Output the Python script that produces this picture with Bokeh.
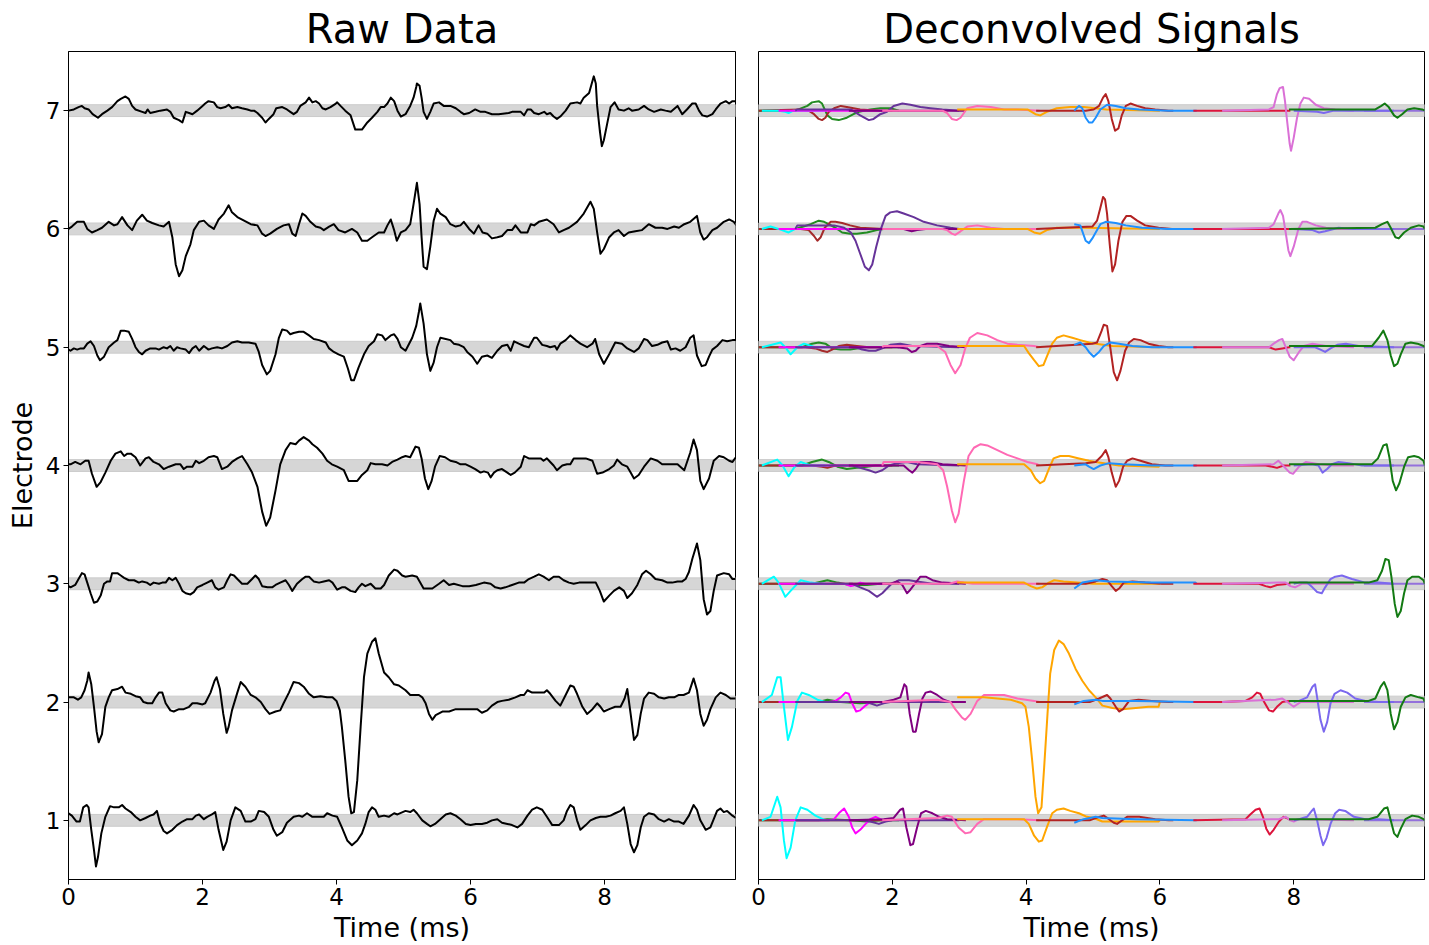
from bokeh.plotting import figure
from bokeh.layouts import row
from bokeh.models import Range1d, FixedTicker
from bokeh.embed import file_html
from bokeh.resources import INLINE

# ---------------- data ----------------
electrodes = [1, 2, 3, 4, 5, 6, 7]
x_ticks = [0, 2, 4, 6, 8]
time_span = [0.0, 9.955]
electrode_span = [0.5, 7.5]
band_half_width = 0.05

# raw traces: (time ms, offset from electrode level)
raw_e7 = [(0.00,0.00),(0.08,0.01),(0.15,0.03),(0.20,0.04),(0.24,0.02),(0.30,0.01),(0.36,-0.03),(0.44,-0.06),(0.50,-0.03),(0.58,0.00),(0.65,0.03),(0.73,0.08),(0.78,0.10),(0.85,0.12),(0.90,0.10),(0.95,0.04),(1.00,0.01),(1.10,-0.01),(1.15,-0.02),(1.18,0.01),(1.22,-0.02),(1.30,-0.01),(1.37,0.00),(1.47,0.01),(1.52,-0.01),(1.57,-0.06),(1.65,-0.08),(1.70,-0.10),(1.75,-0.01),(1.80,-0.02),(1.85,-0.03),(1.92,0.00),(2.00,0.04),(2.04,0.06),(2.09,0.08),(2.17,0.07),(2.22,0.03),(2.27,0.02),(2.34,0.03),(2.39,0.05),(2.44,0.02),(2.52,0.03),(2.59,0.02),(2.67,0.01),(2.72,0.00),(2.77,0.00),(2.82,-0.02),(2.89,-0.06),(2.94,-0.10),(2.99,-0.07),(3.06,-0.03),(3.10,0.02),(3.19,0.03),(3.26,0.01),(3.31,-0.01),(3.36,-0.03),(3.41,-0.01),(3.46,0.04),(3.54,0.07),(3.59,0.11),(3.64,0.07),(3.69,0.08),(3.74,0.06),(3.79,0.02),(3.84,0.01),(3.91,0.03),(3.99,0.06),(4.01,0.07),(4.06,0.04),(4.13,0.00),(4.21,-0.04),(4.28,-0.16),(4.38,-0.16),(4.46,-0.10),(4.53,-0.06),(4.61,-0.01),(4.66,0.03),(4.71,0.03),(4.76,0.06),(4.81,0.11),(4.86,0.08),(4.91,0.00),(4.96,-0.05),(5.03,-0.03),(5.10,0.04),(5.15,0.11),(5.19,0.20),(5.20,0.23),(5.24,0.21),(5.27,0.11),(5.30,-0.01),(5.35,-0.07),(5.40,-0.01),(5.45,0.06),(5.53,0.07),(5.60,0.04),(5.70,0.04),(5.78,0.02),(5.85,-0.01),(5.90,-0.03),(5.98,-0.02),(6.07,0.01),(6.15,-0.01),(6.22,-0.01),(6.32,-0.03),(6.42,-0.03),(6.57,-0.02),(6.62,-0.01),(6.75,-0.01),(6.80,-0.04),(6.85,0.01),(6.90,0.01),(6.95,-0.02),(7.02,-0.03),(7.10,-0.01),(7.14,-0.03),(7.19,-0.02),(7.24,-0.05),(7.29,-0.07),(7.34,-0.05),(7.42,0.00),(7.49,0.06),(7.59,0.07),(7.64,0.06),(7.69,0.11),(7.77,0.15),(7.84,0.29),(7.87,0.23),(7.89,0.04),(7.93,-0.17),(7.96,-0.30),(7.99,-0.25),(8.04,-0.11),(8.09,0.03),(8.15,0.07),(8.21,0.01),(8.29,0.00),(8.36,0.02),(8.41,0.00),(8.51,0.01),(8.59,0.04),(8.66,0.01),(8.74,-0.01),(8.84,0.01),(8.91,0.00),(8.99,-0.01),(9.09,0.04),(9.16,-0.03),(9.23,0.01),(9.31,0.06),(9.36,0.06),(9.41,0.00),(9.46,-0.04),(9.53,-0.05),(9.61,-0.03),(9.66,0.01),(9.73,0.06),(9.81,0.08),(9.86,0.06),(9.91,0.08),(9.96,0.08)]
raw_e6 = [(0.00,0.00),(0.05,0.02),(0.13,0.06),(0.23,0.06),(0.28,0.00),(0.35,-0.03),(0.43,-0.01),(0.50,0.01),(0.60,0.06),(0.68,0.03),(0.73,0.04),(0.80,0.10),(0.88,0.03),(0.95,-0.01),(1.02,0.07),(1.10,0.12),(1.17,0.07),(1.25,0.05),(1.35,0.03),(1.42,0.02),(1.50,0.06),(1.55,-0.07),(1.60,-0.30),(1.65,-0.40),(1.70,-0.35),(1.75,-0.23),(1.82,-0.13),(1.87,-0.01),(1.95,0.06),(2.02,0.07),(2.09,0.03),(2.17,0.00),(2.24,0.08),(2.32,0.13),(2.39,0.20),(2.44,0.14),(2.52,0.10),(2.62,0.07),(2.72,0.04),(2.82,0.03),(2.89,-0.04),(2.94,-0.06),(3.01,-0.04),(3.11,0.00),(3.21,0.03),(3.29,0.04),(3.34,-0.04),(3.39,-0.06),(3.44,0.04),(3.49,0.13),(3.54,0.11),(3.61,0.06),(3.69,0.02),(3.76,0.01),(3.81,-0.01),(3.89,0.02),(3.96,0.04),(4.03,-0.01),(4.13,-0.03),(4.23,0.00),(4.31,-0.03),(4.38,-0.10),(4.46,-0.10),(4.53,-0.07),(4.63,-0.03),(4.71,-0.03),(4.76,0.03),(4.81,0.08),(4.86,-0.01),(4.90,-0.10),(4.96,-0.03),(5.03,-0.01),(5.10,0.04),(5.15,0.21),(5.20,0.39),(5.24,0.21),(5.27,-0.07),(5.30,-0.32),(5.35,-0.34),(5.40,-0.15),(5.45,0.07),(5.50,0.17),(5.55,0.13),(5.63,0.10),(5.70,0.04),(5.78,0.02),(5.85,0.03),(5.90,0.06),(5.98,0.00),(6.05,-0.04),(6.12,0.03),(6.18,-0.03),(6.25,-0.04),(6.32,-0.08),(6.40,-0.07),(6.47,-0.06),(6.55,-0.01),(6.62,-0.01),(6.67,0.03),(6.75,-0.03),(6.85,-0.03),(6.90,0.04),(6.95,0.03),(7.02,0.06),(7.14,0.08),(7.24,0.04),(7.32,-0.03),(7.39,-0.01),(7.47,0.01),(7.59,0.06),(7.69,0.13),(7.79,0.23),(7.84,0.17),(7.89,-0.03),(7.94,-0.21),(7.99,-0.17),(8.07,-0.07),(8.14,-0.03),(8.21,-0.01),(8.29,-0.06),(8.36,-0.03),(8.46,-0.02),(8.56,-0.01),(8.66,0.04),(8.76,0.01),(8.86,0.01),(8.94,0.00),(9.04,0.02),(9.11,0.01),(9.19,0.04),(9.28,0.06),(9.38,0.11),(9.43,-0.03),(9.48,-0.09),(9.53,-0.07),(9.61,-0.01),(9.68,0.01),(9.78,0.06),(9.86,0.08),(9.93,0.06),(9.97,0.03)]
raw_e5 = [(0.00,-0.02),(0.03,-0.03),(0.08,-0.01),(0.13,-0.02),(0.18,-0.01),(0.23,-0.01),(0.28,0.03),(0.33,0.05),(0.38,0.01),(0.43,-0.07),(0.47,-0.11),(0.53,-0.08),(0.60,0.00),(0.68,0.04),(0.73,0.06),(0.78,0.14),(0.83,0.14),(0.90,0.13),(0.95,0.07),(1.00,0.00),(1.05,-0.04),(1.10,-0.06),(1.15,-0.03),(1.22,-0.01),(1.30,-0.01),(1.35,-0.02),(1.42,0.00),(1.47,-0.01),(1.52,0.01),(1.57,-0.03),(1.62,0.00),(1.67,-0.01),(1.75,-0.02),(1.80,-0.05),(1.85,-0.01),(1.90,0.01),(1.95,-0.03),(2.02,0.01),(2.09,-0.02),(2.14,-0.01),(2.22,0.00),(2.29,-0.01),(2.37,0.01),(2.44,0.04),(2.52,0.05),(2.59,0.04),(2.69,0.04),(2.79,0.03),(2.84,-0.04),(2.89,-0.15),(2.96,-0.23),(3.01,-0.20),(3.09,-0.06),(3.14,0.08),(3.19,0.15),(3.26,0.14),(3.31,0.11),(3.36,0.12),(3.44,0.13),(3.51,0.13),(3.59,0.10),(3.66,0.07),(3.74,0.06),(3.84,0.04),(3.89,-0.01),(3.96,-0.04),(4.03,-0.06),(4.11,-0.08),(4.17,-0.18),(4.22,-0.28),(4.26,-0.28),(4.33,-0.17),(4.41,-0.06),(4.48,0.01),(4.56,0.05),(4.61,0.11),(4.68,0.10),(4.73,0.06),(4.81,0.10),(4.86,0.11),(4.91,0.07),(4.96,0.00),(5.03,-0.03),(5.13,0.08),(5.19,0.18),(5.23,0.30),(5.25,0.37),(5.30,0.20),(5.35,-0.06),(5.40,-0.20),(5.45,-0.13),(5.50,0.00),(5.55,0.08),(5.63,0.07),(5.70,0.06),(5.75,0.03),(5.83,0.02),(5.90,0.00),(5.95,-0.04),(6.03,-0.08),(6.10,-0.14),(6.17,-0.08),(6.25,-0.07),(6.32,-0.09),(6.40,-0.03),(6.47,0.01),(6.55,0.02),(6.60,-0.03),(6.65,0.05),(6.72,0.03),(6.80,0.01),(6.87,0.00),(6.95,0.08),(6.99,0.08),(7.07,0.02),(7.14,0.01),(7.19,0.00),(7.26,0.01),(7.29,-0.02),(7.34,0.03),(7.42,0.06),(7.49,0.10),(7.57,0.06),(7.64,0.03),(7.74,0.00),(7.82,0.03),(7.86,0.07),(7.92,-0.06),(7.99,-0.14),(8.07,-0.06),(8.16,0.04),(8.26,0.03),(8.34,-0.01),(8.44,-0.04),(8.51,-0.01),(8.59,0.07),(8.64,0.06),(8.71,0.01),(8.79,0.02),(8.86,0.04),(8.94,0.05),(8.99,-0.02),(9.06,-0.01),(9.13,-0.03),(9.21,0.00),(9.28,0.08),(9.33,0.10),(9.38,-0.07),(9.45,-0.16),(9.51,-0.15),(9.56,-0.08),(9.61,-0.02),(9.68,0.01),(9.76,0.06),(9.83,0.05),(9.91,0.06),(9.96,0.06)]
raw_e4 = [(0.00,0.01),(0.03,0.01),(0.10,0.03),(0.18,0.01),(0.25,0.04),(0.30,0.04),(0.35,-0.07),(0.42,-0.18),(0.48,-0.14),(0.55,-0.06),(0.63,0.04),(0.70,0.10),(0.78,0.12),(0.83,0.08),(0.88,0.10),(0.93,0.10),(1.00,0.07),(1.07,0.00),(1.15,0.06),(1.20,0.07),(1.27,0.03),(1.35,0.01),(1.42,-0.03),(1.50,-0.01),(1.60,0.01),(1.67,0.01),(1.72,-0.03),(1.77,-0.01),(1.85,-0.01),(1.90,0.04),(1.95,0.02),(2.02,0.04),(2.09,0.07),(2.17,0.08),(2.22,0.07),(2.29,-0.03),(2.37,-0.01),(2.44,0.03),(2.52,0.06),(2.59,0.08),(2.67,0.01),(2.74,-0.06),(2.82,-0.18),(2.89,-0.39),(2.95,-0.51),(3.01,-0.44),(3.09,-0.21),(3.16,0.01),(3.24,0.13),(3.31,0.19),(3.39,0.18),(3.44,0.21),(3.51,0.24),(3.59,0.21),(3.64,0.18),(3.71,0.15),(3.79,0.10),(3.86,0.04),(3.93,0.01),(4.01,-0.01),(4.11,-0.04),(4.18,-0.13),(4.23,-0.13),(4.31,-0.13),(4.38,-0.08),(4.46,-0.04),(4.51,0.02),(4.58,0.01),(4.68,0.01),(4.76,0.00),(4.83,0.03),(4.91,0.05),(4.98,0.07),(5.03,0.08),(5.10,0.07),(5.18,0.16),(5.23,0.15),(5.27,0.06),(5.32,-0.11),(5.37,-0.20),(5.42,-0.13),(5.47,-0.01),(5.54,0.08),(5.62,0.07),(5.70,0.04),(5.78,0.03),(5.85,0.01),(5.93,0.01),(6.00,-0.01),(6.07,-0.03),(6.15,-0.06),(6.20,-0.05),(6.26,-0.06),(6.30,-0.10),(6.35,-0.06),(6.40,-0.04),(6.47,-0.03),(6.55,-0.06),(6.60,-0.08),(6.66,-0.06),(6.75,-0.01),(6.80,0.08),(6.87,0.06),(6.97,0.06),(7.05,0.06),(7.09,0.04),(7.14,0.06),(7.19,0.03),(7.24,0.00),(7.29,-0.04),(7.37,0.00),(7.44,0.01),(7.49,0.01),(7.54,0.06),(7.64,0.06),(7.72,0.06),(7.82,0.04),(7.89,-0.07),(7.97,-0.06),(8.07,-0.03),(8.14,0.00),(8.19,0.05),(8.26,0.01),(8.34,-0.01),(8.39,-0.06),(8.44,-0.11),(8.51,-0.08),(8.59,-0.01),(8.69,0.06),(8.79,0.04),(8.86,0.01),(8.94,0.01),(9.01,0.01),(9.09,0.01),(9.19,-0.04),(9.28,0.11),(9.33,0.22),(9.38,0.13),(9.43,-0.13),(9.48,-0.20),(9.56,-0.11),(9.63,0.04),(9.71,0.08),(9.78,0.07),(9.86,0.04),(9.91,0.03),(9.96,0.07)]
raw_e3 = [(0.00,-0.02),(0.03,-0.03),(0.10,-0.01),(0.15,0.04),(0.20,0.09),(0.24,0.08),(0.28,0.01),(0.33,-0.08),(0.38,-0.16),(0.43,-0.15),(0.48,-0.10),(0.53,0.00),(0.58,0.02),(0.62,0.02),(0.65,0.09),(0.73,0.09),(0.78,0.07),(0.83,0.05),(0.90,0.03),(0.98,0.03),(1.05,0.01),(1.10,0.02),(1.17,0.01),(1.22,-0.01),(1.27,0.01),(1.35,0.00),(1.40,0.01),(1.45,0.01),(1.50,0.05),(1.55,0.03),(1.60,0.05),(1.65,0.00),(1.70,-0.06),(1.75,-0.08),(1.82,-0.09),(1.87,-0.07),(1.92,-0.03),(2.00,-0.01),(2.07,0.01),(2.14,0.03),(2.19,-0.03),(2.24,-0.05),(2.32,-0.03),(2.37,0.03),(2.42,0.08),(2.47,0.07),(2.52,0.04),(2.59,0.00),(2.67,0.00),(2.74,0.04),(2.79,0.07),(2.84,0.04),(2.89,-0.02),(2.97,-0.03),(3.04,-0.03),(3.09,-0.01),(3.16,0.01),(3.24,0.03),(3.29,-0.01),(3.34,-0.06),(3.41,0.00),(3.49,0.04),(3.54,0.06),(3.59,0.06),(3.66,0.02),(3.74,0.01),(3.81,0.02),(3.89,0.03),(3.94,0.01),(4.01,-0.05),(4.08,-0.03),(4.13,-0.03),(4.21,-0.06),(4.28,-0.07),(4.33,-0.03),(4.38,0.00),(4.43,-0.02),(4.51,0.00),(4.58,-0.04),(4.66,-0.04),(4.71,-0.01),(4.78,0.07),(4.86,0.12),(4.91,0.11),(4.98,0.07),(5.03,0.06),(5.13,0.07),(5.20,0.06),(5.30,-0.04),(5.43,-0.04),(5.53,0.00),(5.60,0.03),(5.68,-0.01),(5.75,0.00),(5.88,-0.02),(5.98,-0.02),(6.08,-0.01),(6.20,0.01),(6.30,0.00),(6.37,-0.03),(6.45,-0.04),(6.52,-0.03),(6.62,-0.01),(6.72,0.01),(6.80,0.01),(6.87,0.04),(6.95,0.06),(7.02,0.08),(7.09,0.06),(7.17,0.03),(7.24,0.06),(7.32,0.06),(7.39,0.03),(7.47,0.01),(7.54,0.00),(7.62,0.01),(7.69,0.01),(7.79,0.01),(7.87,0.01),(7.93,-0.06),(7.99,-0.15),(8.07,-0.10),(8.14,-0.06),(8.22,-0.03),(8.29,-0.06),(8.34,-0.12),(8.41,-0.08),(8.49,-0.01),(8.56,0.08),(8.62,0.11),(8.69,0.08),(8.76,0.04),(8.86,0.03),(8.94,0.01),(9.01,0.01),(9.09,0.02),(9.16,0.02),(9.21,0.04),(9.26,0.10),(9.31,0.21),(9.38,0.34),(9.43,0.20),(9.48,-0.13),(9.53,-0.26),(9.58,-0.23),(9.63,-0.06),(9.68,0.07),(9.78,0.09),(9.86,0.08),(9.91,0.04),(9.96,0.04)]
raw_e2 = [(0.00,0.04),(0.08,0.04),(0.14,0.02),(0.19,0.04),(0.24,0.10),(0.28,0.18),(0.30,0.25),(0.34,0.15),(0.38,-0.04),(0.42,-0.25),(0.45,-0.34),(0.50,-0.27),(0.55,-0.04),(0.60,0.04),(0.65,0.10),(0.73,0.11),(0.80,0.13),(0.85,0.08),(0.93,0.07),(1.00,0.05),(1.07,0.04),(1.12,0.00),(1.18,-0.01),(1.25,-0.01),(1.30,0.04),(1.35,0.08),(1.40,0.08),(1.45,-0.01),(1.52,-0.07),(1.57,-0.08),(1.65,-0.06),(1.72,-0.06),(1.80,-0.04),(1.85,-0.01),(1.92,-0.01),(2.00,-0.02),(2.04,-0.01),(2.12,0.08),(2.18,0.18),(2.21,0.21),(2.26,0.11),(2.31,-0.10),(2.36,-0.26),(2.39,-0.21),(2.44,-0.07),(2.52,0.08),(2.57,0.17),(2.64,0.13),(2.72,0.06),(2.79,0.04),(2.87,0.00),(2.94,-0.06),(3.00,-0.10),(3.09,-0.08),(3.16,-0.07),(3.21,-0.01),(3.29,0.08),(3.36,0.17),(3.44,0.16),(3.51,0.13),(3.59,0.07),(3.66,0.04),(3.76,0.05),(3.86,0.04),(3.94,0.04),(4.00,0.01),(4.05,-0.07),(4.08,-0.21),(4.13,-0.49),(4.18,-0.80),(4.22,-0.94),(4.26,-0.93),(4.31,-0.66),(4.36,-0.21),(4.41,0.21),(4.46,0.41),(4.53,0.51),(4.58,0.54),(4.63,0.41),(4.71,0.25),(4.78,0.21),(4.86,0.15),(4.93,0.14),(5.03,0.10),(5.10,0.06),(5.15,0.06),(5.23,0.06),(5.28,0.04),(5.33,-0.01),(5.38,-0.10),(5.43,-0.15),(5.48,-0.11),(5.58,-0.08),(5.68,-0.08),(5.78,-0.06),(5.88,-0.06),(5.95,-0.06),(6.03,-0.06),(6.10,-0.06),(6.17,-0.09),(6.25,-0.07),(6.32,-0.03),(6.40,0.00),(6.47,0.01),(6.57,0.02),(6.67,0.04),(6.75,0.06),(6.80,0.06),(6.85,0.10),(6.92,0.08),(7.02,0.08),(7.10,0.08),(7.14,0.10),(7.19,0.07),(7.27,0.01),(7.34,-0.03),(7.42,0.06),(7.49,0.14),(7.54,0.13),(7.59,0.07),(7.67,-0.04),(7.74,-0.10),(7.82,-0.06),(7.89,-0.01),(7.94,-0.04),(7.99,-0.08),(8.07,-0.06),(8.16,-0.04),(8.24,-0.04),(8.30,0.03),(8.34,0.11),(8.39,-0.10),(8.44,-0.32),(8.49,-0.28),(8.54,-0.10),(8.59,0.03),(8.66,0.08),(8.74,0.07),(8.81,0.04),(8.89,0.03),(8.96,0.04),(9.04,0.04),(9.11,0.06),(9.18,0.06),(9.26,0.08),(9.33,0.20),(9.38,0.10),(9.43,-0.10),(9.48,-0.20),(9.53,-0.15),(9.58,-0.06),(9.66,0.04),(9.73,0.08),(9.81,0.06),(9.88,0.03),(9.96,0.03)]
raw_e1 = [(0.00,0.06),(0.05,0.04),(0.12,-0.01),(0.17,-0.01),(0.22,0.11),(0.27,0.13),(0.30,0.11),(0.34,-0.08),(0.38,-0.25),(0.41,-0.39),(0.44,-0.31),(0.49,-0.11),(0.55,0.03),(0.62,0.12),(0.68,0.11),(0.75,0.11),(0.80,0.13),(0.85,0.10),(0.93,0.07),(1.00,0.03),(1.07,0.00),(1.15,0.02),(1.22,0.04),(1.27,0.05),(1.32,0.08),(1.37,-0.03),(1.42,-0.09),(1.47,-0.11),(1.55,-0.08),(1.62,-0.04),(1.70,-0.01),(1.77,0.01),(1.85,0.01),(1.90,0.04),(1.95,0.05),(2.02,0.01),(2.07,0.03),(2.14,0.05),(2.19,0.07),(2.24,-0.08),(2.31,-0.25),(2.36,-0.18),(2.42,0.00),(2.49,0.11),(2.57,0.08),(2.64,-0.01),(2.72,-0.01),(2.79,0.01),(2.84,0.08),(2.92,0.07),(2.99,0.03),(3.06,-0.08),(3.11,-0.13),(3.19,-0.10),(3.26,-0.02),(3.36,0.03),(3.44,0.04),(3.49,0.03),(3.56,0.06),(3.64,0.03),(3.74,0.03),(3.81,0.03),(3.86,0.06),(3.94,0.04),(4.01,0.03),(4.08,-0.06),(4.16,-0.17),(4.23,-0.21),(4.31,-0.17),(4.38,-0.11),(4.43,-0.03),(4.48,0.07),(4.53,0.11),(4.58,0.09),(4.63,0.03),(4.71,0.04),(4.78,0.03),(4.86,0.06),(4.91,0.05),(5.03,0.08),(5.10,0.07),(5.15,0.09),(5.20,0.06),(5.28,0.00),(5.35,-0.03),(5.40,-0.05),(5.47,-0.03),(5.55,0.01),(5.63,0.05),(5.70,0.06),(5.78,0.04),(5.85,0.01),(5.93,-0.03),(6.00,-0.04),(6.08,-0.03),(6.17,-0.03),(6.25,-0.02),(6.32,0.00),(6.40,0.01),(6.47,-0.02),(6.55,-0.03),(6.62,-0.04),(6.70,-0.06),(6.77,-0.03),(6.85,0.04),(6.92,0.09),(6.99,0.11),(7.07,0.09),(7.14,0.03),(7.22,-0.04),(7.32,-0.04),(7.39,0.00),(7.44,0.08),(7.49,0.13),(7.54,0.11),(7.59,0.00),(7.64,-0.08),(7.72,-0.04),(7.79,0.00),(7.87,0.02),(7.94,0.03),(8.02,0.03),(8.09,0.04),(8.16,0.06),(8.24,0.08),(8.29,0.11),(8.34,-0.03),(8.39,-0.20),(8.44,-0.27),(8.49,-0.21),(8.54,-0.06),(8.59,0.03),(8.66,0.06),(8.74,0.05),(8.81,0.01),(8.89,-0.01),(8.96,0.01),(9.04,-0.01),(9.11,-0.01),(9.18,-0.03),(9.26,0.04),(9.33,0.13),(9.38,0.09),(9.43,0.00),(9.51,-0.08),(9.58,-0.06),(9.63,0.01),(9.68,0.08),(9.73,0.10),(9.78,0.07),(9.83,0.08),(9.91,0.04),(9.96,0.02)]

raw_traces = {1: raw_e1, 2: raw_e2, 3: raw_e3, 4: raw_e4, 5: raw_e5, 6: raw_e6, 7: raw_e7}

# deconvolved units: electrode -> [(time ms, offset)], plus each unit's time window
cyan_unit = {
    7: [(0.30,0.0),(0.40,-0.01),(0.45,-0.02),(0.52,0.0)],
    6: [(0.18,0.02),(0.30,0.0),(0.45,-0.03),(0.55,0.0)],
    5: [(0.33,0.04),(0.40,0.0),(0.48,-0.06),(0.58,0.0),(0.68,0.03),(0.85,0.0)],
    4: [(0.28,0.05),(0.36,0.0),(0.45,-0.09),(0.53,-0.02),(0.63,0.03),(0.78,0.0)],
    3: [(0.23,0.06),(0.30,0.01),(0.40,-0.11),(0.48,-0.06),(0.63,0.03),(0.78,0.01),(0.93,0.0)],
    2: [(0.20,0.06),(0.28,0.21),(0.33,0.21),(0.38,-0.04),(0.44,-0.32),(0.50,-0.21),(0.58,0.01),(0.65,0.08),(0.75,0.06),(0.88,0.02)],
    1: [(0.18,0.03),(0.28,0.20),(0.33,0.11),(0.38,-0.17),(0.42,-0.32),(0.48,-0.23),(0.55,0.0),(0.63,0.11),(0.73,0.09),(0.85,0.04)],
}
forestgreen_unit = {
    7: [(0.55,0.0),(0.73,0.04),(0.80,0.07),(0.90,0.08),(0.95,0.06),(1.03,-0.04),(1.10,-0.07),(1.20,-0.08),(1.32,-0.06),(1.42,-0.03),(1.50,-0.01),(1.67,0.01),(1.82,0.02),(1.97,0.02)],
    6: [(0.55,0.0),(0.78,0.04),(0.90,0.07),(0.98,0.06),(1.05,0.04),(1.15,0.01),(1.25,-0.03),(1.37,-0.04),(1.47,-0.04),(1.62,-0.03),(1.77,-0.01),(1.87,0.0)],
    5: [(0.65,0.0),(0.80,0.03),(0.90,0.04),(1.00,0.03),(1.10,-0.01),(1.23,-0.02),(1.37,-0.02),(1.47,-0.01),(1.57,0.0)],
    4: [(0.65,0.0),(0.80,0.03),(0.95,0.05),(1.05,0.03),(1.18,-0.01),(1.32,-0.03),(1.47,-0.02),(1.62,-0.01),(1.75,0.0)],
    3: [(0.80,0.0),(1.03,0.03),(1.18,0.01),(1.37,-0.01),(1.62,-0.01),(1.82,0.0)],
    2: [(0.90,0.0),(1.03,0.02),(1.23,0.0),(1.52,-0.01),(1.82,0.0)],
    1: [(0.90,0.0),(1.03,0.01),(1.37,0.0),(1.62,-0.01),(1.82,0.0)],
}
brown_unit = {
    7: [(0.63,0.01),(0.75,0.0),(0.83,-0.03),(0.90,-0.07),(0.95,-0.08),(1.00,-0.06),(1.05,-0.01),(1.13,0.02),(1.23,0.04),(1.32,0.03),(1.42,0.02),(1.52,0.01),(1.82,0.0)],
    6: [(0.63,0.0),(0.75,-0.01),(0.83,-0.06),(0.88,-0.10),(0.93,-0.07),(0.99,0.01),(1.08,0.06),(1.15,0.06),(1.25,0.05),(1.37,0.03),(1.52,0.01),(1.87,0.0)],
    5: [(0.70,0.0),(0.85,-0.01),(0.95,-0.03),(1.03,-0.04),(1.10,-0.02),(1.20,0.01),(1.32,0.02),(1.47,0.01),(1.65,0.0)],
    4: [(0.80,0.0),(0.95,-0.01),(1.03,-0.02),(1.15,0.0),(1.32,0.0)],
}
magenta_unit = {
    3: [(1.20,0.0),(1.28,0.0),(1.38,-0.02),(1.45,-0.01),(1.52,0.01),(1.60,0.0)],
    2: [(1.05,0.0),(1.15,0.01),(1.23,0.04),(1.30,0.08),(1.35,0.07),(1.40,-0.01),(1.46,-0.08),(1.52,-0.07),(1.60,-0.03),(1.67,0.0)],
    1: [(1.05,0.0),(1.13,0.01),(1.20,0.06),(1.28,0.10),(1.35,0.03),(1.40,-0.06),(1.45,-0.11),(1.52,-0.08),(1.60,-0.03),(1.67,0.01),(1.75,0.03),(1.82,0.01)],
}
rebeccapurple_unit = {
    7: [(0.58,0.01),(1.38,0.01),(1.52,-0.04),(1.65,-0.08),(1.72,-0.07),(1.82,-0.03),(1.92,-0.01),(2.02,0.04),(2.15,0.06),(2.27,0.05),(2.42,0.03),(2.57,0.02),(2.75,0.01)],
    6: [(0.58,0.03),(1.13,0.03),(1.28,0.01),(1.38,-0.03),(1.45,-0.10),(1.52,-0.21),(1.59,-0.32),(1.65,-0.35),(1.70,-0.30),(1.76,-0.15),(1.83,0.0),(1.90,0.11),(1.97,0.14),(2.07,0.15),(2.17,0.13),(2.32,0.10),(2.47,0.06),(2.67,0.03),(2.87,0.01)],
    5: [(1.45,0.0),(1.55,-0.02),(1.65,-0.03),(1.75,-0.03),(1.85,-0.01),(1.97,0.02),(2.12,0.03),(2.30,0.01)],
    4: [(1.40,0.0),(1.52,-0.02),(1.65,-0.04),(1.75,-0.06),(1.85,-0.04),(1.95,0.0),(2.07,0.02),(2.22,0.03),(2.37,0.01)],
    3: [(1.40,0.0),(1.52,-0.03),(1.65,-0.06),(1.77,-0.11),(1.85,-0.08),(1.97,-0.01),(2.10,0.03),(2.25,0.03),(2.37,0.02),(2.60,0.0)],
    2: [(1.55,0.0),(1.67,-0.01),(1.77,-0.03),(1.87,-0.01),(1.97,0.0)],
    1: [(1.55,0.0),(1.67,-0.01),(1.80,-0.03),(1.90,-0.01),(2.00,0.0)],
}
darkmagenta_unit = {
    6: [(2.17,0.0),(2.29,-0.02),(2.37,-0.01),(2.50,0.0)],
    5: [(2.07,0.0),(2.22,-0.01),(2.29,-0.04),(2.35,-0.03),(2.42,0.01),(2.52,0.03),(2.67,0.03),(2.85,0.01)],
    4: [(2.07,0.0),(2.17,0.0),(2.25,-0.04),(2.30,-0.06),(2.35,-0.03),(2.42,0.03),(2.57,0.03),(2.75,0.01)],
    3: [(1.97,0.0),(2.07,0.02),(2.15,-0.01),(2.22,-0.08),(2.27,-0.05),(2.35,0.01),(2.42,0.06),(2.50,0.06),(2.60,0.03),(2.75,0.01)],
    2: [(1.87,0.0),(2.02,0.02),(2.12,0.04),(2.18,0.15),(2.21,0.13),(2.26,-0.10),(2.31,-0.25),(2.35,-0.25),(2.40,-0.10),(2.45,0.03),(2.50,0.08),(2.57,0.09),(2.67,0.06),(2.77,0.02),(2.87,0.0)],
    1: [(1.87,0.01),(2.02,0.02),(2.12,0.09),(2.16,0.10),(2.21,-0.06),(2.27,-0.21),(2.31,-0.20),(2.37,-0.06),(2.43,0.06),(2.50,0.08),(2.60,0.06),(2.70,0.03),(2.82,0.01)],
}
hotpink_unit = {
    7: [(2.75,0.0),(2.82,-0.02),(2.89,-0.07),(2.96,-0.08),(3.02,-0.06),(3.12,0.02),(3.27,0.04),(3.47,0.03),(3.67,0.01),(3.87,0.01)],
    6: [(2.75,0.0),(2.82,-0.01),(2.89,-0.04),(2.94,-0.05),(3.02,-0.02),(3.12,0.02),(3.27,0.03),(3.47,0.01),(3.67,0.0)],
    5: [(1.87,0.01),(2.67,0.01),(2.79,-0.04),(2.87,-0.15),(2.94,-0.22),(3.02,-0.15),(3.09,-0.01),(3.16,0.08),(3.27,0.12),(3.42,0.10),(3.57,0.06),(3.72,0.03),(3.87,0.02),(4.12,0.01)],
    4: [(1.87,0.03),(2.37,0.03),(2.67,0.01),(2.76,-0.04),(2.82,-0.18),(2.89,-0.38),(2.94,-0.48),(2.99,-0.41),(3.07,-0.13),(3.14,0.08),(3.22,0.15),(3.32,0.18),(3.42,0.17),(3.57,0.13),(3.72,0.09),(3.87,0.06),(4.02,0.03),(4.17,0.01)],
    3: [(2.85,0.0),(2.97,0.02),(3.07,0.01),(3.20,0.0)],
    2: [(1.85,0.0),(2.67,0.02),(2.87,0.0),(2.94,-0.06),(3.04,-0.13),(3.09,-0.15),(3.17,-0.10),(3.27,0.01),(3.37,0.06),(3.49,0.06),(3.67,0.06),(3.87,0.03),(4.12,0.01)],
    1: [(2.67,0.02),(2.82,0.04),(2.89,0.03),(2.99,-0.06),(3.09,-0.11),(3.17,-0.10),(3.27,-0.03),(3.37,0.01),(3.57,0.01),(3.87,0.01)],
}
orange_unit = {
    7: [(2.97,0.01),(4.02,0.01),(4.14,-0.03),(4.21,-0.04),(4.31,-0.01),(4.46,0.02),(4.66,0.03),(4.86,0.03),(5.20,0.01),(5.98,0.0)],
    6: [(2.97,0.0),(4.02,0.0),(4.12,-0.03),(4.21,-0.04),(4.31,-0.01),(4.46,0.01),(4.66,0.01),(4.86,0.01),(5.98,0.0)],
    5: [(2.97,0.01),(3.97,0.01),(4.04,-0.05),(4.12,-0.11),(4.19,-0.16),(4.26,-0.15),(4.31,-0.08),(4.39,0.03),(4.46,0.08),(4.56,0.10),(4.69,0.08),(4.81,0.06),(4.94,0.04),(5.04,0.03),(5.29,0.01),(5.98,0.0)],
    4: [(2.97,0.01),(3.97,0.01),(4.07,-0.04),(4.14,-0.11),(4.21,-0.15),(4.27,-0.13),(4.34,-0.03),(4.41,0.06),(4.51,0.08),(4.64,0.08),(4.79,0.06),(4.94,0.04),(5.04,0.03),(5.39,0.0),(5.98,-0.01)],
    3: [(2.97,0.01),(3.97,0.01),(4.07,-0.02),(4.16,-0.04),(4.24,-0.03),(4.34,0.01),(4.42,0.03),(4.56,0.02),(4.76,0.01),(5.00,0.0)],
    2: [(2.97,0.04),(3.37,0.04),(3.77,0.02),(3.94,-0.01),(3.99,-0.04),(4.04,-0.21),(4.09,-0.49),(4.14,-0.80),(4.18,-0.94),(4.23,-0.89),(4.27,-0.55),(4.32,-0.10),(4.36,0.24),(4.42,0.44),(4.49,0.52),(4.56,0.49),(4.64,0.41),(4.74,0.28),(4.84,0.18),(4.94,0.10),(5.04,0.04),(5.14,-0.03),(5.29,-0.05),(5.44,-0.06),(5.64,-0.05),(5.83,-0.04),(5.98,-0.04)],
    1: [(2.97,0.01),(3.97,0.01),(4.04,-0.03),(4.12,-0.13),(4.19,-0.18),(4.24,-0.17),(4.31,-0.06),(4.39,0.06),(4.46,0.09),(4.56,0.10),(4.66,0.08),(4.79,0.06),(4.91,0.03),(5.01,0.02),(5.14,-0.01),(5.39,-0.01),(5.98,-0.01)],
}
firebrick_unit = {
    7: [(4.15,0.0),(4.89,0.0),(5.01,0.01),(5.09,0.04),(5.15,0.11),(5.19,0.14),(5.23,0.08),(5.28,-0.07),(5.33,-0.17),(5.38,-0.15),(5.43,-0.04),(5.49,0.04),(5.56,0.06),(5.66,0.04),(5.78,0.02),(5.93,0.01),(6.13,0.0)],
    6: [(4.15,0.0),(4.99,0.02),(5.06,0.07),(5.11,0.18),(5.15,0.27),(5.18,0.25),(5.21,0.13),(5.25,-0.13),(5.29,-0.36),(5.33,-0.30),(5.38,-0.10),(5.44,0.06),(5.50,0.11),(5.56,0.11),(5.66,0.07),(5.78,0.03),(5.98,0.01),(6.18,0.0)],
    5: [(4.15,0.0),(4.99,0.03),(5.06,0.04),(5.13,0.14),(5.16,0.19),(5.21,0.18),(5.26,-0.01),(5.31,-0.21),(5.36,-0.28),(5.41,-0.20),(5.48,-0.03),(5.54,0.04),(5.61,0.07),(5.71,0.06),(5.83,0.03),(5.98,0.01),(6.13,0.0)],
    4: [(4.15,0.0),(4.89,0.02),(5.04,0.03),(5.13,0.08),(5.19,0.13),(5.23,0.07),(5.28,-0.06),(5.34,-0.18),(5.39,-0.13),(5.45,-0.01),(5.51,0.04),(5.59,0.06),(5.71,0.04),(5.88,0.01),(6.08,0.0)],
    3: [(4.15,0.0),(4.89,0.0),(5.04,0.02),(5.14,0.04),(5.21,0.03),(5.28,-0.02),(5.34,-0.06),(5.39,-0.04),(5.46,0.01),(5.59,0.02),(5.78,0.01),(6.03,0.0)],
    2: [(4.15,0.0),(4.95,0.0),(5.09,0.03),(5.21,0.06),(5.26,0.03),(5.34,-0.04),(5.39,-0.08),(5.45,-0.06),(5.54,0.01),(5.68,0.02),(5.88,0.01),(6.13,0.0)],
    1: [(4.15,0.0),(4.95,0.0),(5.04,0.02),(5.16,0.04),(5.24,0.01),(5.31,-0.02),(5.36,-0.03),(5.41,-0.01),(5.51,0.03),(5.69,0.03),(5.93,0.01),(6.13,0.0)],
}
dodgerblue_unit = {
    7: [(4.72,0.0),(4.79,0.04),(4.84,0.02),(4.89,-0.06),(4.94,-0.10),(4.99,-0.10),(5.04,-0.06),(5.11,0.01),(5.21,0.05),(5.34,0.04),(5.49,0.02),(5.69,0.01),(6.13,0.0),(6.53,0.0)],
    6: [(4.72,0.04),(4.81,0.03),(4.89,-0.10),(4.94,-0.12),(4.99,-0.08),(5.04,-0.03),(5.11,0.04),(5.19,0.06),(5.34,0.05),(5.49,0.03),(5.73,0.01),(6.13,0.0),(6.53,0.0)],
    5: [(4.72,0.02),(4.81,0.04),(4.89,0.0),(4.94,-0.04),(5.01,-0.08),(5.09,-0.04),(5.16,0.01),(5.26,0.04),(5.39,0.03),(5.59,0.01),(5.88,0.0),(6.53,0.0)],
    4: [(4.72,0.0),(4.89,0.01),(4.94,-0.01),(5.01,-0.03),(5.11,0.0),(5.24,0.02),(5.44,0.01),(5.88,0.0),(6.53,0.0)],
    3: [(4.72,-0.04),(4.84,0.01),(5.04,0.03),(5.24,0.02),(5.88,0.01),(6.53,0.01)],
    2: [(4.72,-0.02),(4.86,0.01),(5.04,0.02),(5.14,0.01),(5.64,0.01),(6.53,0.0)],
    1: [(4.72,-0.02),(4.86,0.01),(5.04,0.03),(5.14,0.02),(5.64,0.01),(6.53,0.0)],
}
crimson_unit = {
    5: [(6.50,0.0),(7.63,0.0),(7.73,-0.02),(7.83,-0.01),(7.93,0.0)],
    4: [(6.50,0.0),(7.58,0.0),(7.68,-0.01),(7.75,-0.02),(7.85,0.0),(7.93,0.0)],
    3: [(6.50,0.0),(7.48,0.0),(7.58,-0.02),(7.65,-0.03),(7.75,-0.01),(7.93,0.0)],
    2: [(6.50,0.0),(6.93,0.0),(7.28,0.01),(7.38,0.04),(7.45,0.08),(7.50,0.07),(7.55,0.01),(7.63,-0.07),(7.69,-0.08),(7.75,-0.04),(7.83,0.0),(7.93,0.01)],
    1: [(6.50,0.0),(7.28,0.01),(7.35,0.05),(7.43,0.09),(7.49,0.10),(7.54,0.03),(7.59,-0.07),(7.64,-0.12),(7.70,-0.08),(7.78,-0.01),(7.85,0.03),(7.93,0.01)],
}
orchid_unit = {
    7: [(6.93,0.0),(7.63,0.01),(7.70,0.03),(7.75,0.14),(7.79,0.19),(7.84,0.20),(7.87,0.08),(7.90,-0.08),(7.94,-0.28),(7.96,-0.34),(8.00,-0.23),(8.05,-0.06),(8.10,0.06),(8.15,0.11),(8.23,0.10),(8.33,0.05),(8.45,0.02),(8.62,0.01),(8.87,0.0)],
    6: [(6.93,0.0),(7.63,0.01),(7.70,0.04),(7.77,0.13),(7.80,0.16),(7.84,0.11),(7.88,-0.03),(7.92,-0.18),(7.95,-0.23),(8.00,-0.15),(8.07,0.0),(8.13,0.06),(8.20,0.06),(8.33,0.03),(8.48,0.01),(8.67,0.0)],
    5: [(6.93,0.0),(7.63,0.0),(7.70,0.03),(7.78,0.06),(7.83,0.07),(7.88,0.0),(7.94,-0.08),(8.00,-0.11),(8.08,-0.04),(8.15,0.01),(8.28,0.03),(8.48,0.01)],
    4: [(6.93,0.0),(7.70,0.01),(7.77,0.04),(7.84,0.0),(7.94,-0.06),(7.99,-0.07),(8.08,-0.01),(8.18,0.03),(8.38,0.01),(8.60,0.0)],
    3: [(6.93,0.0),(7.78,0.01),(7.88,0.01),(7.95,-0.02),(8.02,-0.03),(8.12,0.0)],
    2: [(6.93,0.0),(7.73,0.02),(7.83,0.03),(7.93,-0.01),(8.00,-0.04),(8.10,0.0)],
    1: [(6.93,0.0),(7.78,0.01),(7.88,0.03),(7.95,0.0),(8.00,-0.01),(8.08,0.01)],
}
mediumpurple_unit = {}
slateblue_unit = {
    7: [(8.00,0.0),(8.35,-0.01),(8.45,-0.02),(8.60,0.0)],
    6: [(8.00,0.0),(8.28,-0.01),(8.38,-0.03),(8.47,-0.02),(8.67,0.01),(8.90,0.0)],
    5: [(8.00,0.0),(8.32,0.0),(8.40,-0.02),(8.47,-0.04),(8.55,-0.01),(8.65,0.02),(8.78,0.03),(8.97,0.01)],
    4: [(8.00,0.0),(8.27,0.01),(8.37,0.0),(8.43,-0.06),(8.50,-0.03),(8.57,0.01),(8.67,0.03),(8.82,0.02),(9.02,0.0)],
    3: [(8.00,0.0),(8.08,0.01),(8.20,0.01),(8.28,-0.03),(8.35,-0.07),(8.42,-0.08),(8.47,-0.03),(8.55,0.04),(8.62,0.06),(8.72,0.07),(8.87,0.04),(9.07,0.01),(9.27,0.01)],
    2: [(8.00,0.0),(8.08,0.01),(8.20,0.04),(8.28,0.13),(8.32,0.15),(8.35,0.04),(8.40,-0.15),(8.45,-0.25),(8.50,-0.17),(8.55,-0.01),(8.61,0.07),(8.70,0.10),(8.80,0.08),(8.92,0.03),(9.07,0.01),(9.27,0.0)],
    1: [(8.00,0.0),(8.08,0.01),(8.20,0.03),(8.27,0.08),(8.30,0.10),(8.35,0.0),(8.40,-0.13),(8.44,-0.21),(8.49,-0.15),(8.55,-0.03),(8.62,0.06),(8.68,0.09),(8.77,0.08),(8.90,0.03),(9.07,0.01),(9.27,0.01)],
}
green_unit = {
    7: [(7.93,0.01),(9.22,0.01),(9.31,0.04),(9.36,0.06),(9.42,0.03),(9.50,-0.04),(9.55,-0.06),(9.62,-0.03),(9.70,0.01),(9.80,0.02),(9.92,0.01)],
    6: [(7.93,0.0),(9.22,0.01),(9.32,0.04),(9.40,0.06),(9.45,0.01),(9.52,-0.07),(9.57,-0.08),(9.65,-0.03),(9.75,0.01),(9.87,0.03),(9.94,0.02)],
    5: [(7.93,0.01),(9.17,0.01),(9.27,0.08),(9.34,0.14),(9.40,0.06),(9.45,-0.07),(9.50,-0.16),(9.55,-0.14),(9.60,-0.06),(9.67,0.03),(9.75,0.04),(9.85,0.03),(9.94,0.01)],
    4: [(7.93,0.01),(9.17,0.01),(9.26,0.06),(9.34,0.17),(9.39,0.18),(9.43,0.07),(9.48,-0.13),(9.53,-0.21),(9.58,-0.15),(9.65,-0.01),(9.71,0.07),(9.80,0.08),(9.87,0.07),(9.94,0.04)],
    3: [(7.93,0.01),(9.12,0.01),(9.25,0.03),(9.32,0.11),(9.37,0.21),(9.42,0.20),(9.46,0.06),(9.51,-0.17),(9.55,-0.28),(9.60,-0.23),(9.65,-0.08),(9.70,0.03),(9.77,0.06),(9.87,0.06),(9.94,0.03)],
    2: [(7.93,0.01),(9.12,0.01),(9.22,0.03),(9.30,0.13),(9.35,0.17),(9.40,0.10),(9.45,-0.10),(9.50,-0.23),(9.55,-0.17),(9.60,-0.04),(9.67,0.04),(9.75,0.06),(9.87,0.04),(9.94,0.03)],
    1: [(7.93,0.01),(9.12,0.01),(9.25,0.03),(9.35,0.10),(9.40,0.11),(9.45,0.0),(9.50,-0.11),(9.55,-0.14),(9.60,-0.07),(9.67,0.01),(9.77,0.04),(9.87,0.03),(9.94,0.01)],
}

unit_windows = {
    "forestgreen": (0.00, 2.10), "brown": (0.00, 2.00), "cyan": (0.05, 1.00),
    "magenta": (0.30, 1.90), "rebeccapurple": (0.55, 3.00), "darkmagenta": (1.35, 3.10),
    "hotpink": (1.85, 4.20), "orange": (2.97, 6.00), "firebrick": (4.15, 6.20),
    "dodgerblue": (4.72, 6.55), "crimson": (6.50, 7.95), "orchid": (6.93, 8.90),
    "mediumpurple": (9.05, 9.96), "slateblue": (8.00, 9.50), "green": (7.93, 9.96),
}
units = {
    "forestgreen": forestgreen_unit, "brown": brown_unit, "cyan": cyan_unit,
    "magenta": magenta_unit, "rebeccapurple": rebeccapurple_unit, "darkmagenta": darkmagenta_unit,
    "hotpink": hotpink_unit, "orange": orange_unit, "firebrick": firebrick_unit,
    "dodgerblue": dodgerblue_unit, "crimson": crimson_unit, "orchid": orchid_unit,
    "mediumpurple": mediumpurple_unit, "slateblue": slateblue_unit, "green": green_unit,
}

# ---------------- style ----------------
unit_colors = {
    "forestgreen": "#228B22", "brown": "#A52A2A", "cyan": "#00FFFF", "magenta": "#FF00FF",
    "rebeccapurple": "#663399", "darkmagenta": "#800080", "hotpink": "#FF69B4",
    "orange": "#FFA500", "firebrick": "#B22222", "dodgerblue": "#1E90FF",
    "crimson": "#DC143C", "orchid": "#DA70D6", "mediumpurple": "#9370DB",
    "slateblue": "#7B68EE", "green": "#137A13",
}
draw_order = ["forestgreen", "brown", "cyan", "magenta", "rebeccapurple", "darkmagenta",
              "hotpink", "orange", "firebrick", "dodgerblue", "crimson", "orchid",
              "mediumpurple", "slateblue", "green"]

FONT = "DejaVu Sans"
BAND_COLOR = "#d6d6d6"


def make_fig(title, width, border_left, border_right, show_y):
    p = figure(width=width, height=945, x_range=Range1d(*time_span),
               y_range=Range1d(*electrode_span), output_backend="svg",
               toolbar_location=None, min_border_left=border_left,
               min_border_right=border_right, min_border_top=51, min_border_bottom=65,
               title=title)
    p.title.align = "center"
    p.title.text_font = FONT
    p.title.text_font_size = "40px"
    p.title.text_font_style = "normal"
    p.title.text_color = "black"
    p.title.standoff = 0
    p.xgrid.visible = False
    p.ygrid.visible = False
    p.outline_line_color = "black"
    p.outline_line_width = 1
    p.outline_line_alpha = 1
    p.background_fill_color = "white"
    p.border_fill_color = "white"

    xa = p.xaxis[0]
    xa.ticker = FixedTicker(ticks=x_ticks)
    xa.minor_tick_line_color = None
    xa.major_tick_out = 5
    xa.major_tick_in = 0
    xa.major_label_text_font = FONT
    xa.major_label_text_font_size = "23px"
    xa.major_label_text_color = "black"
    xa.major_label_standoff = 3
    xa.axis_label = "Time (ms)"
    xa.axis_label_text_font = FONT
    xa.axis_label_text_font_size = "27px"
    xa.axis_label_text_font_style = "normal"
    xa.axis_label_text_color = "black"
    xa.axis_label_standoff = 4
    xa.axis_line_color = "black"
    xa.major_tick_line_color = "black"

    ya = p.yaxis[0]
    if show_y:
        ya.ticker = FixedTicker(ticks=electrodes)
        ya.minor_tick_line_color = None
        ya.major_tick_out = 5
        ya.major_tick_in = 0
        ya.major_label_text_font = FONT
        ya.major_label_text_font_size = "23px"
        ya.major_label_text_color = "black"
        ya.major_label_standoff = 3
        ya.axis_label = "Electrode"
        ya.axis_label_text_font = FONT
        ya.axis_label_text_font_size = "27px"
        ya.axis_label_text_font_style = "normal"
        ya.axis_label_text_color = "black"
        ya.axis_label_standoff = 5
        ya.axis_line_color = "black"
        ya.major_tick_line_color = "black"
    else:
        ya.visible = False

    p.quad(left=[time_span[0]] * len(electrodes), right=[time_span[1]] * len(electrodes),
           bottom=[e - band_half_width for e in electrodes],
           top=[e + band_half_width for e in electrodes],
           fill_color=BAND_COLOR, line_color="#cbcbcb", line_width=1)
    return p


p1 = make_fig("Raw Data", 745, 68, 10, True)
for e in electrodes:
    pts = raw_traces[e]
    p1.line([t for t, v in pts], [e + v for t, v in pts], line_color="black",
            line_width=2, line_join="round")

p2 = make_fig("Deconvolved Signals", 684, 13, 5, False)
for name in draw_order:
    t0, t1 = unit_windows[name]
    for e in electrodes:
        pts = list(units[name].get(e, []))
        if not pts or pts[0][0] > t0:
            pts = [(t0, 0.0)] + pts
        if pts[-1][0] < t1:
            pts = pts + [(t1, 0.0)]
        p2.line([t for t, v in pts], [e + v for t, v in pts], line_color=unit_colors[name],
                line_width=2, line_join="round")

layout = row(p1, p2)
open("out.html", "w").write(file_html(layout, INLINE))
